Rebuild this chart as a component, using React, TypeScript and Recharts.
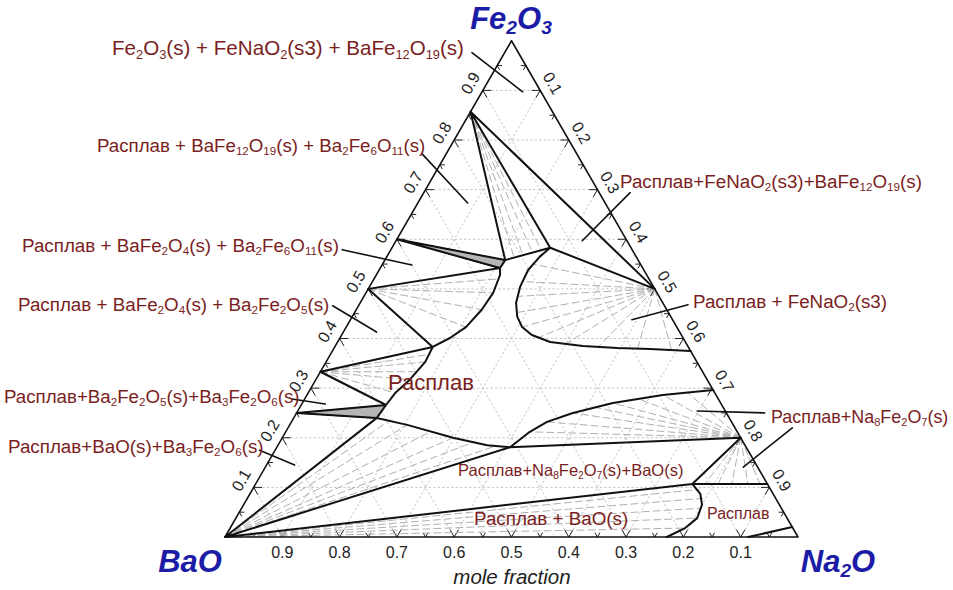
import React from "react"
import { ScatterChart, Scatter, XAxis, YAxis } from "recharts"

// compositions are [Na2O, Fe2O3] mole fractions, BaO is the rest
type Pt = [number, number]
type XY = { x: number; y: number }

const W = 953
const H = 590
// BaO corner sits at (225, 537) px, triangle side is 573 px
const X0 = 225
const Y0 = 537
const SIDE = 573

// compounds
const BAO: Pt = [0, 0]
const FE2O3: Pt = [0, 1]
const NA2O: Pt = [1, 0]
const BAFE12O19: Pt = [0, 0.857]
const BA2FE6O11: Pt = [0, 0.6]
const BAFE2O4: Pt = [0, 0.5]
const BA2FE2O5: Pt = [0, 0.333]
const BA3FE2O6: Pt = [0, 0.25]
const FENAO2: Pt = [0.5, 0.5]
const NA8FE2O7: Pt = [0.8, 0.2]

// invariant points
const E1: Pt = [0.21, 0.558]
const E1B: Pt = [0.209, 0.542]
const E2: Pt = [0.276, 0.583]
const E3: Pt = [0.171, 0.383]
const E4: Pt = [0.148, 0.266]
const E4B: Pt = [0.145, 0.24]
const E5: Pt = [0.407, 0.181]
const E6: Pt = [0.762, 0.107]

// liquidus curves
const curveFeNaO2: Pt[] = [E2, [0.267, 0.565], [0.26, 0.538], [0.263, 0.504], [0.272, 0.472], [0.288, 0.444], [0.307, 0.423], [0.332, 0.407], [0.371, 0.393], [0.432, 0.385], [0.494, 0.381], [0.552, 0.379], [0.625, 0.375]]
const curveBaFe2O4: Pt[] = [E1, E1B, [0.216, 0.528], [0.222, 0.492], [0.219, 0.458], [0.209, 0.423], [0.192, 0.401], E3]
const curveBa2Fe2O5: Pt[] = [E3, [0.173, 0.353], [0.164, 0.317], [0.152, 0.29], E4, E4B]
const curveBaO: Pt[] = [E4B, [0.205, 0.226], [0.298, 0.2], [0.365, 0.185], E5]
const curveNa8Fe2O7: Pt[] = [E5, [0.426, 0.212], [0.446, 0.232], [0.482, 0.25], [0.542, 0.27], [0.621, 0.286], [0.704, 0.296]]
const curveNaRich: Pt[] = [E6, [0.786, 0.087], [0.8, 0.065], [0.805, 0.038], [0.794, 0.018], [0.771, 0]]
const curveNa2O: Pt[] = [[0.913, 0], [0.98, 0.02]]

// straight boundaries of the three-phase triangles
const tieTriangles: Pt[][] = [
  [BAFE12O19, E1], [BAFE12O19, E2], [BAFE12O19, FENAO2], [E2, FENAO2], [E1, E2],
  [BA2FE6O11, E1], [BA2FE6O11, E1B], [BAFE2O4, E1B], [BAFE2O4, E3],
  [BA2FE2O5, E3], [BA2FE2O5, E4], [BA3FE2O6, E4], [BA3FE2O6, E4B],
  [BAO, E4B], [BAO, E5], [E5, NA8FE2O7], [BAO, E6], [E6, NA8FE2O7], [E6, [0.893, 0.107]],
]

// narrow shaded two-phase bands
const bands: Pt[][] = [
  [BA2FE6O11, E1, E1B],
  [BA3FE2O6, E4, E4B],
]

// tie-line ends, each fan starts at a solid phase
const tiesBaFe12O19: Pt[] = [[0.223, 0.563], [0.236, 0.568], [0.25, 0.573], [0.263, 0.578]]
const tiesFeNaO2: Pt[] = [[0.262, 0.55], [0.262, 0.515], [0.268, 0.485], [0.282, 0.452], [0.307, 0.423], [0.345, 0.401], [0.4, 0.389], [0.46, 0.383], [0.53, 0.38], [0.59, 0.378]]
const tiesBaFe2O4: Pt[] = [[0.217, 0.52], [0.222, 0.492], [0.219, 0.458], [0.209, 0.423]]
const tiesBa2Fe2O5: Pt[] = [[0.172, 0.368], [0.173, 0.353], [0.168, 0.333], [0.164, 0.317], [0.152, 0.29]]
const tiesBaOLiq: Pt[] = [[0.17, 0.236], [0.205, 0.226], [0.252, 0.212], [0.298, 0.2], [0.34, 0.192], [0.38, 0.183]]
const tiesNa8Up: Pt[] = [[0.426, 0.212], [0.446, 0.232], [0.482, 0.25], [0.512, 0.262], [0.542, 0.27], [0.58, 0.279], [0.621, 0.286], [0.66, 0.292]]
const tiesNa8Low: Pt[] = [[0.784, 0.107], [0.807, 0.107], [0.831, 0.107], [0.859, 0.107], [0.88, 0.107]]
const tiesBaORich: Pt[] = [[0.78, 0.096], [0.795, 0.078], [0.802, 0.058], [0.803, 0.038], [0.794, 0.018]]

// leader lines from labels into the fields
const leaders: Pt[][] = [
  [[-0.057, 0.976], [0.071, 0.897]],
  [[-0.042, 0.772], [0.087, 0.673]],
  [[-0.085, 0.579], [0.052, 0.548]],
  [[-0.045, 0.466], [0.058, 0.413]],
  [[-0.022, 0.278], [0.041, 0.268]],
  [[-0.027, 0.175], [0.049, 0.145]],
  [[0.36, 0.694], [0.325, 0.597]],
  [[0.574, 0.468], [0.491, 0.438]],
  [[0.817, 0.25], [0.697, 0.254]],
  [[0.88, 0.22], [0.834, 0.141]],
]

// axis ticks
const tickValues = [0.1, 0.2, 0.3, 0.4, 0.5, 0.6, 0.7, 0.8, 0.9]
const tickLabels = ["0.1", "0.2", "0.3", "0.4", "0.5", "0.6", "0.7", "0.8", "0.9"]
const minorValues = [0.05, 0.15, 0.25, 0.35, 0.45, 0.55, 0.65, 0.75, 0.85, 0.95]

const regionNames = [
  "Fe_2O_3(s) + FeNaO_2(s3) + BaFe_12O_19(s)",
  "Расплав + BaFe_12O_19(s) + Ba_2Fe_6O_11(s)",
  "Расплав+FeNaO_2(s3)+BaFe_12O_19(s)",
  "Расплав + BaFe_2O_4(s) + Ba_2Fe_6O_11(s)",
  "Расплав + BaFe_2O_4(s) + Ba_2Fe_2O_5(s)",
  "Расплав + FeNaO_2(s3)",
  "Расплав",
  "Расплав+Ba_2Fe_2O_5(s)+Ba_3Fe_2O_6(s)",
  "Расплав+Na_8Fe_2O_7(s)",
  "Расплав+BaO(s)+Ba_3Fe_2O_6(s)",
  "Расплав+Na_8Fe_2O_7(s)+BaO(s)",
  "Расплав + BaO(s)",
  "Расплав",
]
const labelBoxes = [
  { left: 112, cy: 48, size: 20.6 },
  { left: 97, cy: 146, size: 18.7 },
  { left: 620, cy: 182, size: 18.8 },
  { left: 22, cy: 246, size: 18.8 },
  { left: 18, cy: 305, size: 18.8 },
  { left: 693, cy: 302, size: 18.8 },
  { left: 388, cy: 383, size: 22 },
  { left: 4, cy: 397, size: 18.7 },
  { left: 771, cy: 418, size: 17.9 },
  { left: 8, cy: 447, size: 18.8 },
  { left: 458, cy: 470, size: 16.5 },
  { left: 474, cy: 519, size: 18.8 },
  { left: 707, cy: 514, size: 16 },
]

const H3 = Math.sqrt(3) / 2
const toXY = ([n, f]: Pt): XY => ({ x: n + f / 2, y: f * H3 })
const fan = (from: Pt, ends: Pt[]): Pt[][] => ends.map((e) => [from, e])

function pathOf(points: XY[], starts: Set<number>, close: boolean) {
  let d = ""
  points.forEach((p, i) => {
    if (starts.has(i)) d += (close && i > 0 ? "Z" : "") + `M${p.x},${p.y}`
    else d += `L${p.x},${p.y}`
  })
  return close ? d + "Z" : d
}

function segments(key: string, lines: XY[][], stroke: string, width: number, dash?: string, fill?: string) {
  const data: XY[] = []
  const starts = new Set<number>()
  lines.forEach((l) => {
    starts.add(data.length)
    data.push(...l)
  })
  return (
    <Scatter
      key={key}
      data={data}
      isAnimationActive={false}
      shape={() => <g />}
      line={(p: any) => (
        <path
          d={pathOf(p.points, starts, !!fill)}
          fill={fill ?? "none"}
          stroke={stroke}
          strokeWidth={width}
          strokeDasharray={dash}
          strokeLinejoin="round"
          strokeLinecap="round"
        />
      )}
    />
  )
}

function texts(key: string, items: { x: number; y: number; label: string; rot: number }[]) {
  return (
    <Scatter
      key={key}
      data={items}
      isAnimationActive={false}
      shape={(p: any) => (
        <text
          x={p.cx}
          y={p.cy}
          transform={`rotate(${p.payload.rot} ${p.cx} ${p.cy})`}
          textAnchor="middle"
          dominantBaseline="central"
          fontSize={16}
          fontFamily="'Liberation Sans', Arial, sans-serif"
          fill="#222"
        >
          {p.payload.label}
        </text>
      )}
    />
  )
}

function Chem({ text }: { text: string }) {
  const parts = text.split(/(_\d+)/)
  return (
    <>
      {parts.map((s, i) =>
        s.startsWith("_") ? (
          <sub key={i} style={{ fontSize: "0.62em", verticalAlign: "-0.3em", lineHeight: 0 }}>
            {s.slice(1)}
          </sub>
        ) : (
          <span key={i}>{s}</span>
        ),
      )}
    </>
  )
}

const lines = (ls: Pt[][]) => ls.map((l) => l.map(toXY))
const add = (a: XY, dx: number, dy: number): XY => ({ x: a.x + dx, y: a.y + dy })

export default function App() {
  // dotted grid, one family per component
  const grid: XY[][] = []
  tickValues.forEach((v) => {
    grid.push([toXY([0, v]), toXY([1 - v, v])])
    grid.push([toXY([v, 0]), toXY([v, 1 - v])])
    grid.push([toXY([1 - v, 0]), toXY([0, 1 - v])])
  })

  // small inward ticks on the three sides
  const ticks: XY[][] = []
  const pushTicks = (vals: number[], len: number) =>
    vals.forEach((v) => {
      const b = toXY([1 - v, 0])
      ticks.push([add(b, len / 2, len * H3), b, add(b, -len / 2, len * H3)])
      const l = toXY([0, v])
      ticks.push([add(l, len, 0), l, add(l, len / 2, -len * H3)])
      const r = toXY([v, 1 - v])
      ticks.push([add(r, -len, 0), r, add(r, -len / 2, -len * H3)])
    })
  pushTicks(tickValues, 0.014)
  pushTicks(minorValues, 0.008)

  const off = 0.025
  const bottomText = tickValues.map((v, i) => ({ ...add(toXY([1 - v, 0]), 0, -off - 0.002), label: tickLabels[i], rot: 0 }))
  const leftText = tickValues.map((v, i) => ({ ...add(toXY([0, v]), -off * H3, off / 2), label: tickLabels[i], rot: -60 }))
  const rightText = tickValues.map((v, i) => ({ ...add(toXY([v, 1 - v]), off * H3, off / 2), label: tickLabels[i], rot: 60 }))

  const ties = lines([
    ...fan(BAFE12O19, tiesBaFe12O19),
    ...fan(FENAO2, tiesFeNaO2),
    ...fan(BAFE2O4, tiesBaFe2O4),
    ...fan(BA2FE2O5, tiesBa2Fe2O5),
    ...fan(BAO, tiesBaOLiq),
    ...fan(NA8FE2O7, tiesNa8Up),
    ...fan(NA8FE2O7, tiesNa8Low),
    ...fan(BAO, tiesBaORich),
  ])
  const bold = lines([curveFeNaO2, curveBaFe2O4, curveBa2Fe2O5, curveBaO, curveNa8Fe2O7, curveNaRich, curveNa2O, ...tieTriangles])

  const red = "#7a1e1e"
  const blue = "#1c1ca6"
  const font = "'Liberation Sans', Arial, sans-serif"
  const title = { position: "absolute" as const, transform: "translate(-50%,-50%)", fontSize: 31, fontWeight: "bold" as const, fontStyle: "italic" as const, color: blue, whiteSpace: "nowrap" as const, lineHeight: 1 }

  return (
    <div style={{ position: "relative", width: W, height: H, background: "#fff", fontFamily: font }}>
      <style>{"body{margin:0}"}</style>
      <ScatterChart width={W} height={H} margin={{ top: 0, right: 0, bottom: 0, left: 0 }}>
        <XAxis type="number" dataKey="x" domain={[-X0 / SIDE, (W - X0) / SIDE]} hide allowDataOverflow />
        <YAxis type="number" dataKey="y" domain={[-(H - Y0) / SIDE, Y0 / SIDE]} hide allowDataOverflow />
        {segments("grid", grid, "#c4c4c4", 1, "1.5 3")}
        {segments("ticks", ticks, "#222", 1)}
        {segments("bands", lines(bands), "#333", 1, undefined, "#b5b5b5")}
        {segments("ties", ties, "#b0b0b0", 1, "7 4")}
        {segments("bold", bold, "#111", 2)}
        {segments("frame", lines([[BAO, NA2O, FE2O3, BAO]]), "#111", 1.6)}
        {segments("leaders", lines(leaders), "#111", 1.6)}
        {texts("bottom", bottomText)}
        {texts("left", leftText)}
        {texts("right", rightText)}
      </ScatterChart>

      {regionNames.map((t, i) => (
        <div
          key={i}
          style={{
            position: "absolute",
            left: labelBoxes[i].left,
            top: labelBoxes[i].cy,
            transform: "translateY(-50%)",
            fontSize: labelBoxes[i].size,
            color: red,
            whiteSpace: "nowrap",
            lineHeight: 1,
          }}
        >
          <Chem text={t} />
        </div>
      ))}

      <div style={{ ...title, left: 511, top: 18 }}>
        <Chem text="Fe_2O_3" />
      </div>
      <div style={{ ...title, left: 190, top: 561 }}>BaO</div>
      <div style={{ ...title, left: 838, top: 561 }}>
        <Chem text="Na_2O" />
      </div>
      <div style={{ position: "absolute", left: 512, top: 577, transform: "translate(-50%,-50%)", fontSize: 20.5, fontStyle: "italic", color: "#222", whiteSpace: "nowrap", lineHeight: 1 }}>
        mole fraction
      </div>
    </div>
  )
}
